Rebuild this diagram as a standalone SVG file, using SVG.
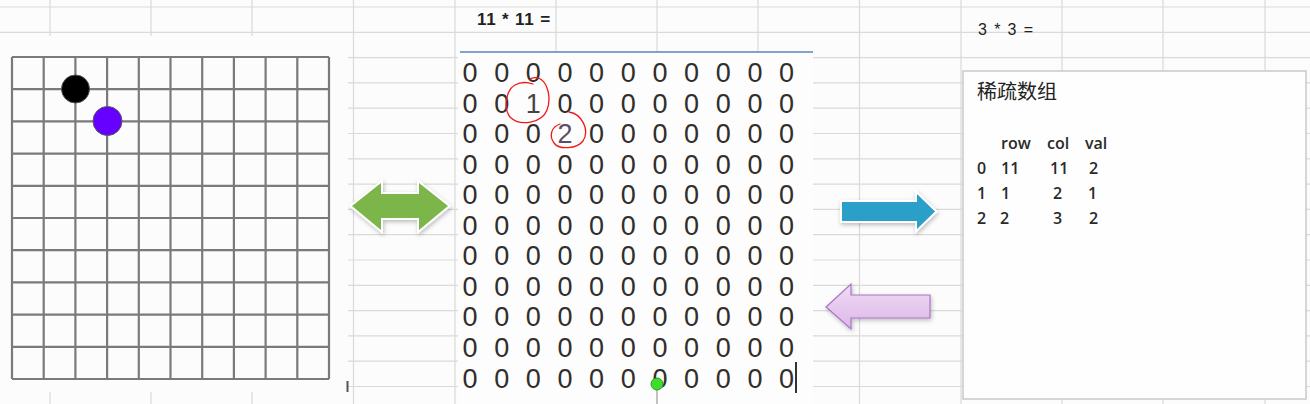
<svg xmlns="http://www.w3.org/2000/svg" width="1310" height="404" viewBox="0 0 1310 404">
<style>
.gl{stroke:#d9dad9;stroke-width:1.2;fill:none}
.bd{stroke:#7a7a7a;stroke-width:2.2;fill:none}
.z{font-family:"Liberation Sans",Arial,sans-serif;font-size:27px;fill:#312e2b;text-anchor:middle}
.hd{font-family:"Liberation Sans",Arial,sans-serif;fill:#222}
.tb{font-family:"Open Sans","Liberation Sans",Arial,sans-serif;font-size:16px;font-weight:600;fill:#2a2a2a}
.loop{fill:none;stroke:#f01818;stroke-width:1.3;stroke-linecap:round}
</style>
<defs>
<filter id="sh" x="-20%" y="-30%" width="140%" height="160%">
<feDropShadow dx="1" dy="2" stdDeviation="2" flood-color="#000" flood-opacity="0.25"/>
</filter>
<linearGradient id="pg" x1="0" y1="0" x2="0" y2="1">
<stop offset="0" stop-color="#f1dcf5"/>
<stop offset="1" stop-color="#dcb7e8"/>
</linearGradient>
</defs>
<rect x="0" y="0" width="1310" height="404" fill="#fbfcfb"/>
<g id="sheet">
<path class="gl" d="M0 7H1310M0 32.3H1310M0 57.6H1310M0 82.9H1310M0 108.2H1310M0 133.5H1310M0 158.8H1310M0 184.1H1310M0 209.4H1310M0 234.7H1310M0 260H1310M0 285.3H1310M0 310.6H1310M0 335.9H1310M0 361.2H1310M0 386.5H1310"/>
<path class="gl" d="M50 0V404M151 0V404M252 0V404M353.5 0V404M455 0V404M556 0V404M657 0V404M758 0V404M859.5 0V404M961 0V404M1062 0V404M1163 0V404M1265 0V404"/>
<rect x="0" y="36" width="348" height="356" fill="#fbfcfb"/>
<rect x="458" y="52" width="355" height="352" fill="#fdfdfd"/>
</g>
<g id="board">
<path class="bd" d="M12 57V379M43.7 57V379M75.4 57V379M107.1 57V379M138.8 57V379M170.5 57V379M202.2 57V379M233.9 57V379M265.6 57V379M297.3 57V379M329 57V379"/>
<path class="bd" d="M12 57H329M12 89.2H329M12 121.4H329M12 153.6H329M12 185.8H329M12 218H329M12 250.2H329M12 282.4H329M12 314.6H329M12 346.8H329M12 379H329"/>
<circle cx="75.5" cy="89" r="14" fill="#000" stroke="#555" stroke-width="1"/>
<circle cx="107.5" cy="121" r="14.5" fill="#6600ff" stroke="#5a5a5a" stroke-width="1"/>
<rect x="346.5" y="381" width="2" height="11" fill="#555"/>
</g>
<g id="matrix">
<text class="hd" x="477" y="25" font-size="17" font-weight="bold" letter-spacing="0.8">11 * 11 =</text>
<line x1="460" y1="52" x2="813" y2="52" stroke="#5b85b8" stroke-width="1.5"/>
<g class="z">
<text y="82" x="470 501.65 533.3 565 596.6 628.3 659.9 691.6 723.2 754.9 786.5">00000000000</text>
<text y="112.5" x="470 501.65">00<tspan x="533.3" fill="#444">1</tspan><tspan x="565 596.6 628.3 659.9 691.6 723.2 754.9 786.5">00000000</tspan></text>
<text y="143" x="470 501.65 533.3">000<tspan x="565" fill="#5a4f66">2</tspan><tspan x="596.6 628.3 659.9 691.6 723.2 754.9 786.5">0000000</tspan></text>
<text y="173.6" x="470 501.65 533.3 565 596.6 628.3 659.9 691.6 723.2 754.9 786.5">00000000000</text>
<text y="204.2" x="470 501.65 533.3 565 596.6 628.3 659.9 691.6 723.2 754.9 786.5">00000000000</text>
<text y="234.7" x="470 501.65 533.3 565 596.6 628.3 659.9 691.6 723.2 754.9 786.5">00000000000</text>
<text y="265.3" x="470 501.65 533.3 565 596.6 628.3 659.9 691.6 723.2 754.9 786.5">00000000000</text>
<text y="295.8" x="470 501.65 533.3 565 596.6 628.3 659.9 691.6 723.2 754.9 786.5">00000000000</text>
<text y="326.4" x="470 501.65 533.3 565 596.6 628.3 659.9 691.6 723.2 754.9 786.5">00000000000</text>
<text y="357" x="470 501.65 533.3 565 596.6 628.3 659.9 691.6 723.2 754.9 786.5">00000000000</text>
<text y="387.5" x="470 501.65 533.3 565 596.6 628.3 659.9 691.6 723.2 754.9 786.5">00000000000</text>
</g>
<path class="loop" d="M530 79C545 72 553 95 547 110C542 123 520 127 510 117C503 108 506 90 515 85C522 81 530 83 533 84"/>
<path class="loop" d="M569 112C582 114 590 130 583 141C577 149 559 150 554 143C549 136 551 127 560 124"/>
<rect x="795" y="362" width="2" height="31" fill="#333"/>
<line x1="657" y1="384" x2="657" y2="404" stroke="#888" stroke-width="1"/>
<circle cx="657" cy="384" r="6" fill="#3fdc2e" stroke="#2b9a22" stroke-width="1"/>
</g>
<g id="sparse">
<text class="hd" x="978" y="35" font-size="16" letter-spacing="1.4">3 * 3 =</text>
<rect x="963" y="71" width="343" height="328" fill="#fdfefd" stroke="#c9c9c9" stroke-width="1.5"/>
<text x="977" y="99" font-family="'Noto Sans CJK SC',sans-serif" font-size="20" fill="#222">稀疏数组</text>
<g class="tb">
<text x="1001" y="149">row</text><text x="1047" y="149">col</text><text x="1085" y="149">val</text>
<text x="977" y="174">0</text><text x="1001" y="174">11</text><text x="1050" y="174">11</text><text x="1089" y="174">2</text>
<text x="977" y="199">1</text><text x="1001" y="199">1</text><text x="1053" y="199">2</text><text x="1088" y="199">1</text>
<text x="977" y="224">2</text><text x="1000" y="224">2</text><text x="1053" y="224">3</text><text x="1089" y="224">2</text>
</g>
</g>
<g id="connectors">
<polygon points="352,206 381,183 381,194 419,194 419,183 448,206 419,230 419,218 381,218 381,230" fill="#7cb548" stroke="#fff" stroke-width="4" stroke-linejoin="miter" paint-order="stroke" filter="url(#sh)"/>
<polygon points="842,202 917,202 917,194 935,211.5 917,229 917,221 842,221" fill="#2c9fc7" stroke="#fff" stroke-width="4" paint-order="stroke" filter="url(#sh)"/>
<polygon points="826,307 851,284 851,295 930,295 930,318 851,318 851,329" fill="url(#pg)" stroke="#a874c4" stroke-width="1.2" filter="url(#sh)"/>
</g>
</svg>
